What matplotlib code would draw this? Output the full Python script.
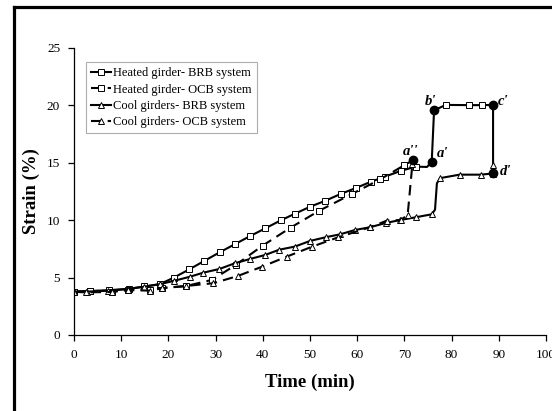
import matplotlib
matplotlib.use('Agg')
import matplotlib.pyplot as plt
from matplotlib.lines import Line2D

plt.rcParams['font.family'] = ['Liberation Serif', 'DejaVu Serif']

# Heated girder - BRB system
heat_brb_t = [0, 3.4, 7.5, 11.6, 14.9, 18.2, 21.2, 24.4, 27.6, 31.0, 34.1, 37.2, 40.5, 43.8, 46.8,
              50.1, 53.2, 56.5, 59.8, 62.9, 65.9, 69.2, 72.4, 74.8, 75.8, 76.3, 78.8, 83.8, 86.4, 88.8, 88.8]
heat_brb_s = [3.77, 3.83, 3.9, 4.02, 4.22, 4.42, 5.0, 5.7, 6.44, 7.22, 7.9, 8.58, 9.27, 9.97, 10.55,
              11.17, 11.67, 12.27, 12.8, 13.33, 13.78, 14.27, 14.65, 14.62, 15.05, 19.55, 20.02, 20.0, 20.0, 20.02, 14.1]

# Heated girder - OCB system
heat_ocb_t = [0, 3.4, 8.0, 11.5, 16.1, 18.6, 23.7, 29.3, 34.3, 40.0, 45.9, 52.0, 58.9, 64.9, 69.9, 71.9]
heat_ocb_s = [3.77, 3.8, 3.78, 3.95, 3.95, 4.1, 4.25, 4.8, 6.1, 7.78, 9.34, 10.82, 12.27, 13.55, 14.75, 15.23]

# Cool girders - BRB system
cool_brb_t = [0, 2.7, 7.3, 11.5, 14.9, 18.2, 21.1, 24.6, 27.4, 30.8, 34.1, 37.2, 40.5, 43.5, 46.8, 50.0,
              53.3, 56.4, 59.6, 62.7, 66.1, 69.1, 72.4, 75.8, 76.5, 76.9, 77.6, 81.7, 86.2, 88.7, 88.8]
cool_brb_s = [3.77, 3.77, 3.85, 4.0, 4.2, 4.42, 4.7, 5.07, 5.42, 5.74, 6.24, 6.6, 6.96, 7.42, 7.69, 8.18,
              8.5, 8.76, 9.14, 9.37, 9.75, 10.0, 10.24, 10.5, 10.9, 13.2, 13.65, 13.95, 13.95, 14.05, 14.8]

# Cool girders - OCB system
cool_ocb_t = [0, 2.6, 8.1, 11.5, 16.1, 18.6, 23.7, 29.5, 34.7, 39.9, 45.1, 50.5, 56.0, 62.7, 66.3, 69.2, 70.7, 71.7]
cool_ocb_s = [3.75, 3.71, 3.74, 3.9, 3.86, 4.06, 4.26, 4.5, 5.13, 5.95, 6.82, 7.69, 8.5, 9.37, 9.95, 10.0, 10.44, 14.85]

# key points
pt_names = ["a''", "a'", "b'", "c'", "d'"]
pt_t = [71.9, 75.8, 76.3, 88.8, 88.8]
pt_s = [15.23, 15.05, 19.55, 20.02, 14.1]

fig = plt.figure(figsize=(5.52, 4.11), dpi=100)
ax = fig.add_axes([0.134, 0.185, 0.855, 0.699])

# points that are only part of the curve shape, without marker
heat_brb_mk = [i for i in range(len(heat_brb_t)) if i != 23]
cool_brb_mk = [i for i in range(len(cool_brb_t)) if i not in (24, 25)]

mstyle = dict(markerfacecolor='white', markeredgecolor='black', markeredgewidth=0.7)
ax.plot(heat_brb_t, heat_brb_s, '-', color='black', lw=1.5, marker='s', ms=4.5,
        markevery=heat_brb_mk, label='Heated girder- BRB system', **mstyle)
ax.plot(heat_ocb_t, heat_ocb_s, color='black', lw=1.5, ls=(0, (5, 3)), marker='s', ms=4.5,
        label='Heated girder- OCB system', **mstyle)
ax.plot(cool_brb_t, cool_brb_s, '-', color='black', lw=1.5, marker='^', ms=5,
        markevery=cool_brb_mk, label='Cool girders- BRB system', **mstyle)
ax.plot(cool_ocb_t, cool_ocb_s, color='black', lw=1.5, ls=(0, (5, 3)), marker='^', ms=5,
        label='Cool girders- OCB system', **mstyle)

ax.plot(pt_t, pt_s, 'o', color='black', ms=6, zorder=5)
label_pos = [(71.3, 16.0), (78.1, 15.8), (75.6, 20.3), (90.9, 20.3), (91.4, 14.2)]
for name, (lx, ly) in zip(pt_names, label_pos):
    ax.text(lx, ly, name, ha='center', va='center', fontsize=10.5,
            fontweight='bold', fontstyle='italic')

ax.set_xlim(0, 100)
ax.set_ylim(0, 25)
ax.set_xticks(range(0, 101, 10))
ax.set_yticks(range(0, 26, 5))
ax.spines['top'].set_visible(False)
ax.spines['right'].set_visible(False)
ax.spines['left'].set_linewidth(0.9)
ax.spines['bottom'].set_linewidth(0.9)
ax.tick_params(direction='out', length=4, width=0.9, labelsize=9.5, pad=6)
ax.set_xlabel('Time (min)', fontsize=13.5, fontweight='bold', labelpad=9)
ax.set_ylabel('Strain (%)', fontsize=13.5, fontweight='bold', labelpad=5)

leg = ax.legend(loc='upper left', bbox_to_anchor=(0.025, 0.949), borderaxespad=0,
                fontsize=9, fancybox=False, handlelength=1.6, handletextpad=0.2,
                labelspacing=0.35, borderpad=0.4)
leg.get_frame().set_edgecolor('#999999')
leg.get_frame().set_linewidth(0.8)

# outer black frame (cut off at right and bottom)
fig.add_artist(Line2D([0.0245, 0.0245], [-0.1, 0.982], color='black', lw=2.3, transform=fig.transFigure))
fig.add_artist(Line2D([0.0245, 1.1], [0.982, 0.982], color='black', lw=2.3, transform=fig.transFigure))

plt.savefig('out.png', dpi=100)
